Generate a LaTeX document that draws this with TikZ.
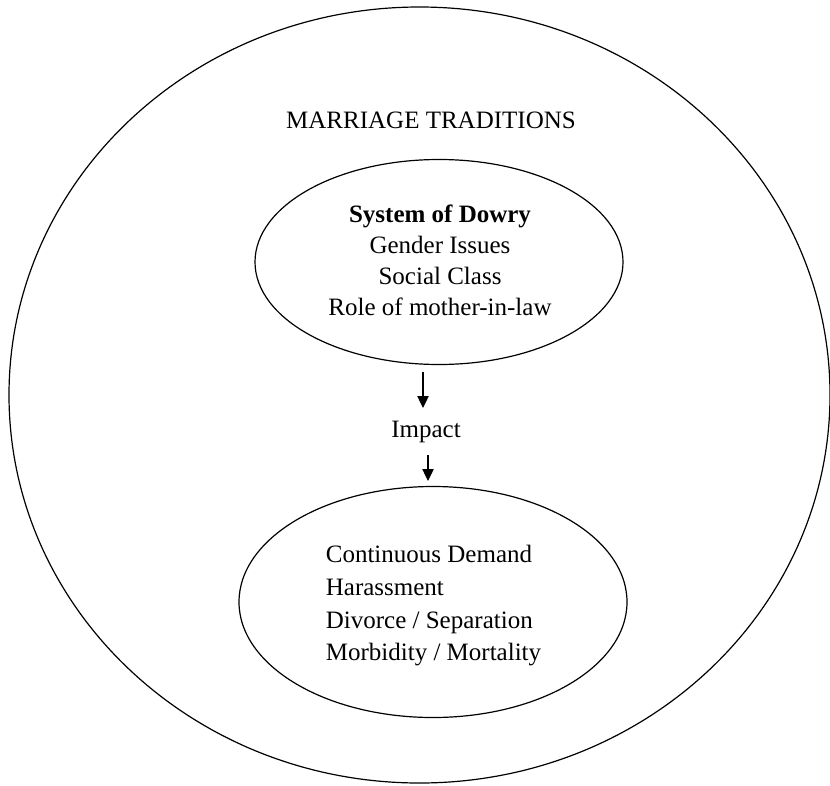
\documentclass[tikz,border=0pt]{standalone}
\usepackage{fontspec}
\setmainfont{Liberation Serif}
\usetikzlibrary{shapes.geometric,arrows.meta}
\begin{document}
\begin{tikzpicture}[x=0.75pt,y=-0.75pt, line width=0.9pt,
  oval/.style={draw, ellipse, inner sep=0pt},
  txt/.style={font=\fontsize{18.75pt}{23.25pt}\selectfont, inner sep=0pt},
  txtb/.style={font=\fontsize{18.75pt}{24.5pt}\selectfont, inner sep=0pt},
  arr/.style={-{Triangle[length=9pt,width=8.5pt]}, line width=0.9pt}]
\useasboundingbox (0,0) rectangle (830,785);
\node[oval, minimum width=615.75pt, minimum height=582pt] (outer) at (419.5,395) {};
\node[oval, minimum width=276pt, minimum height=153.75pt] (top) at (439,262) {};
\node[oval, minimum width=291pt, minimum height=173.25pt] (bottom) at (433,602) {};
\node[txt] (title) at (431,120) {MARRIAGE TRADITIONS};
\node[txt, align=center] (causes) at (440,260) {\textbf{System of Dowry}\\Gender Issues\\Social Class\\Role of mother-in-law};
\node[txt] (impact) at (426,432) {Impact};
\node[txtb, align=left] (effects) at (433.5,606) {Continuous Demand\\Harassment\\Divorce / Separation\\Morbidity / Mortality};
\coordinate (a1s) at (423,372);
\coordinate (a1e) at (423,408);
\coordinate (a2s) at (428,455);
\coordinate (a2e) at (428,481);
\draw[arr] (a1s) -- (a1e);
\draw[arr] (a2s) -- (a2e);
\end{tikzpicture}
\end{document}
